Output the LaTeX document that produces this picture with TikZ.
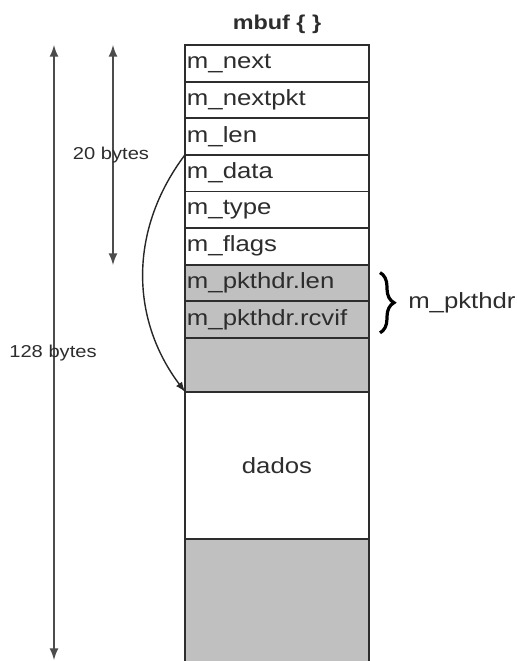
\documentclass[tikz,border=0pt]{standalone}
\usepackage{fontspec}
\setmainfont[FakeStretch=1.17]{Liberation Sans}
\usetikzlibrary{positioning,decorations.pathreplacing}
\definecolor{cellgray}{RGB}{192,192,192}
\definecolor{inkgray}{RGB}{45,45,45}

\begin{document}
\begin{tikzpicture}[x=0.5pt,y=0.5pt,
			fld/.style={draw=inkgray, line width=0.9pt, fill=white, minimum height=18.3pt,
				text width=90pt, inner xsep=1pt, inner ysep=0pt, outer sep=0pt, align=left,
				text=inkgray, font=\fontsize{11}{12}\selectfont, anchor=north west},
			gfld/.style={fld, fill=cellgray},
			t1/.style={<->, >=latex, line width=1pt, draw=black!70},
			t2/.style={->, >=latex, line width=0.7pt, draw=black!85, bend right=37},
			br/.style={decorate, decoration={brace, amplitude=7pt}, line width=1.6pt},
			lbl/.style={text=inkgray, font=\fontsize{8.6}{10}\selectfont}]

			\useasboundingbox (0,0) rectangle (516,661);

			% drawing mbuf fields
			\node[fld] (r1) at (185,616) {m\_next};
			\node[fld, below=0pt of r1] (r2) {m\_nextpkt};
			\node[fld, below=0pt of r2] (r3) {m\_len};
			\node[fld, below=0pt of r3] (r4) {m\_data};
			\node[fld, below=0pt of r4] (r5) {m\_type};
			\node[fld, below=0pt of r5] (r6) {m\_flags};
			\node[gfld, below=0pt of r6] (r7) {m\_pkthdr.len};
			\node[gfld, below=0pt of r7] (r8) {m\_pkthdr.rcvif};
			\node[gfld, minimum height=27pt, below=0pt of r8] (r9) {};
			\node[fld, minimum height=73.5pt, align=center, below=0pt of r9] (r10) {dados};
			\node[gfld, minimum height=64pt, below=0pt of r10] (r11) {};

			% title
			\node[font=\bfseries\fontsize{10}{12}\selectfont, text=inkgray, above=2pt of r1] (title) {mbuf \{ \}};

			% drawing size arrows
			\coordinate (big top) at (54,616);
			\coordinate (big bot) at (54,1);
			\coordinate (hdr top) at (113,616);
			\coordinate (hdr bot) at (113,396);
			\draw[t1] (big top) -- (big bot);
			\draw[t1] (hdr top) -- (hdr bot);
			\node[lbl] (l20) at (111,506) {20 bytes};
			\node[lbl] (l128) at (53,308) {128 bytes};

			% m_data pointer
			\draw[t2] (r4.north west) to (r9.south west);

			% pkthdr brace
			\draw[br] ([xshift=5.5pt,yshift=-4pt]r7.north east) -- ([xshift=5.5pt,yshift=2.5pt]r8.south east)
				node[midway, right=10pt, text=inkgray, font=\fontsize{11}{12}\selectfont] (hdr) {m\_pkthdr};

		\end{tikzpicture}
\end{document}
